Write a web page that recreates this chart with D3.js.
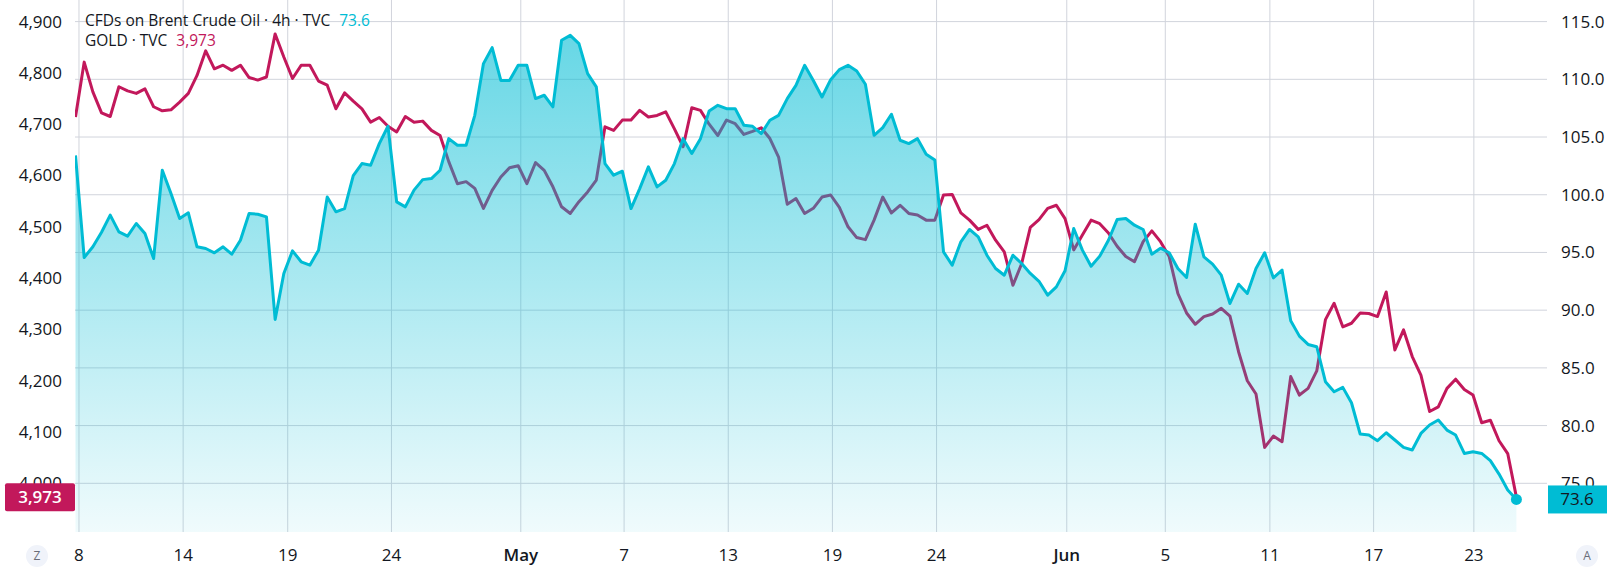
<!DOCTYPE html>
<html>
<head>
<meta charset="utf-8">
<script src="https://cdn.jsdelivr.net/npm/d3@7"></script>
<style>
  body { margin: 0; background: #ffffff; }
  svg { display: block; font-family: "Open Sans", sans-serif; }
</style>
</head>
<body>
<div id="chart"><svg></svg></div>
<script>
// Brent (right scale), one value every 2 bars of 4h
const brent = [
  103.4, 94.56, 95.49, 96.75, 98.23, 96.78, 96.41, 97.51, 96.64, 94.47,
  102.12, 100.1, 97.94, 98.43, 95.49, 95.34, 94.97, 95.49, 94.85, 96.06,
  98.37, 98.31, 98.08, 89.2, 93.18, 95.14, 94.19, 93.9, 95.2, 99.81,
  98.52, 98.8, 101.66, 102.7, 102.56, 104.43, 105.93, 99.38, 98.95, 100.4,
  101.31, 101.4, 102.12, 104.86, 104.29, 104.29, 106.88, 111.36, 112.74, 109.9,
  109.9, 111.21, 111.21, 108.33, 108.62, 107.61, 113.38, 113.81, 113.09, 110.49,
  109.34, 102.7, 101.69, 102.04, 98.8, 100.53, 102.41, 100.68, 101.26, 102.7,
  104.86, 103.57, 104.86, 107.26, 107.75, 107.46, 107.46, 106.02, 105.93, 105.3,
  106.45, 106.88, 108.33, 109.48, 111.21, 109.9, 108.47, 109.97, 110.84, 111.21,
  110.72, 109.57, 105.15, 105.82, 106.97, 104.72, 104.43, 104.86, 103.51, 103.0,
  95.05, 93.9, 95.92, 96.99, 96.35, 94.76, 93.61, 93.03, 94.76, 94.04,
  93.18, 92.5, 91.3, 92.02, 93.41, 97.07, 95.2, 93.81, 94.68, 96.06,
  97.85, 97.94, 97.36, 96.99, 94.85, 95.37, 94.97, 93.61, 92.83, 97.45,
  94.62, 93.99, 93.03, 90.58, 92.25, 91.45, 93.61, 94.97, 92.8, 93.47,
  89.08, 87.75, 87.03, 86.83, 83.8, 82.93, 83.31, 81.98, 79.27, 79.18,
  78.69, 79.38, 78.75, 78.11, 77.88, 79.32, 80.05, 80.48, 79.61, 79.18,
  77.59, 77.74, 77.59, 76.96, 75.8, 74.42, 73.6
]

// Gold (left scale)
const gold = [
  4714, 4821, 4763, 4722, 4715, 4773, 4765, 4760, 4769, 4734,
  4726, 4728, 4743, 4760, 4795, 4843, 4808, 4815, 4805, 4815,
  4791, 4786, 4792, 4876, 4831, 4789, 4815, 4815, 4784, 4776,
  4730, 4761, 4745, 4730, 4704, 4713, 4696, 4685, 4715, 4704,
  4706, 4688, 4678, 4627, 4584, 4588, 4575, 4536, 4571, 4597,
  4615, 4619, 4584, 4625, 4610, 4578, 4539, 4526, 4549, 4568,
  4591, 4695, 4688, 4708, 4708, 4727, 4714, 4717, 4724, 4691,
  4656, 4732, 4727, 4700, 4678, 4708, 4701, 4680, 4686, 4693,
  4672, 4636, 4544, 4555, 4526, 4536, 4558, 4562, 4538, 4500,
  4479, 4475, 4513, 4558, 4527, 4542, 4526, 4523, 4513, 4513,
  4562, 4563, 4527, 4513, 4495, 4503, 4474, 4451, 4386, 4428,
  4499, 4514, 4536, 4542, 4516, 4455, 4484, 4513, 4506, 4488,
  4462, 4442, 4432, 4471, 4492, 4471, 4442, 4370, 4332, 4310,
  4325, 4330, 4341, 4326, 4256, 4200, 4174, 4070, 4092, 4081,
  4208, 4172, 4185, 4219, 4319, 4351, 4305, 4312, 4332, 4331,
  4325, 4373, 4260, 4299, 4247, 4211, 4140, 4149, 4185, 4203,
  4183, 4172, 4118, 4123, 4083, 4058, 3973
]

// x axis ticks (position in samples)
const tickLabels = ["8", "14", "19", "24", "May", "7", "13", "19", "24", "Jun", "5", "11", "17", "23"]
const tickIdx = [0.4, 12.4, 24.45, 36.4, 51.3, 63.2, 75.2, 87.2, 99.2, 114.2, 125.55, 137.6, 149.55, 161.1]

const leftTicks = [4000, 4100, 4200, 4300, 4400, 4500, 4600, 4700, 4800, 4900]
const rightTicks = [75, 80, 85, 90, 95, 100, 105, 110, 115]

const lastBrent = "73.6"
const lastGold = "3,973"

class DualChart {
    constructor() {
        this.width = 1616
        this.height = 574

        this.plot = {
            left: 75,
            right: 1547,
            top: 0,
            bottom: 532
        }

        this.colors = {
            brent: "#00bcd4",
            gold: "#c2185b",
            grid: "#d1d4dc",
            text: "#131722"
        }

        this.setUp()
    }

    setUp() {
        let svg = d3.select("#chart").select("svg")
            .attr("width", this.width)
            .attr("height", this.height)

        this.x = d3.scaleLinear()
            .domain([0, brent.length - 1])
            .range([75.5, 1516.4])

        this.yR = d3.scaleLinear().domain([75, 115]).range([483.3, 21.6])
        this.yL = d3.scaleLinear().domain([4000, 4900]).range([483.3, 21.6])

        let defs = svg.append("defs")
        defs.append("clipPath").attr("id", "plot-clip")
            .append("rect")
            .attr("x", this.plot.left)
            .attr("y", this.plot.top)
            .attr("width", this.plot.right - this.plot.left)
            .attr("height", this.plot.bottom - this.plot.top)

        let grad = defs.append("linearGradient")
            .attr("id", "brent-fill")
            .attr("gradientUnits", "userSpaceOnUse")
            .attr("x1", 0).attr("x2", 0)
            .attr("y1", this.yR(114)).attr("y2", this.plot.bottom)
        grad.append("stop").attr("offset", 0).attr("stop-color", this.colors.brent).attr("stop-opacity", 0.6)
        grad.append("stop").attr("offset", 1).attr("stop-color", this.colors.brent).attr("stop-opacity", 0.06)

        this.setUpGrid(svg)
        this.setUpSeries(svg)
        this.setUpAxes(svg)
        this.setUpLegend(svg)
    }

    setUpGrid(svg) {
        let grid = svg.append("g").attr("class", "grid")

        grid.selectAll(".h-line")
            .data(rightTicks)
            .join("line")
            .attr("x1", this.plot.left)
            .attr("x2", this.plot.right)
            .attr("y1", d => this.yR(d))
            .attr("y2", d => this.yR(d))
            .attr("stroke", this.colors.grid)

        grid.selectAll(".v-line")
            .data(tickIdx)
            .join("line")
            .attr("x1", d => this.x(d))
            .attr("x2", d => this.x(d))
            .attr("y1", this.plot.top)
            .attr("y2", this.plot.bottom)
            .attr("stroke", this.colors.grid)
    }

    setUpSeries(svg) {
        let series = svg.append("g").attr("clip-path", "url(#plot-clip)")

        let goldLine = d3.line()
            .x((d, i) => this.x(i))
            .y(d => this.yL(d))

        let brentLine = d3.line()
            .x((d, i) => this.x(i))
            .y(d => this.yR(d))

        let brentArea = d3.area()
            .x((d, i) => this.x(i))
            .y0(this.plot.bottom)
            .y1(d => this.yR(d))

        // gold sits under the brent fill, so it turns purple inside it
        series.append("path")
            .datum(gold)
            .attr("d", goldLine)
            .attr("fill", "none")
            .attr("stroke", this.colors.gold)
            .attr("stroke-width", 3)
            .attr("stroke-linejoin", "round")

        series.append("path")
            .datum(brent)
            .attr("d", brentArea)
            .attr("fill", "url(#brent-fill)")

        series.append("path")
            .datum(brent)
            .attr("d", brentLine)
            .attr("fill", "none")
            .attr("stroke", this.colors.brent)
            .attr("stroke-width", 3)
            .attr("stroke-linejoin", "round")

        series.append("circle")
            .attr("cx", this.x(brent.length - 1))
            .attr("cy", this.yR(brent[brent.length - 1]))
            .attr("r", 5.5)
            .attr("fill", this.colors.brent)
    }

    setUpAxes(svg) {
        let axes = svg.append("g").attr("font-size", 17).attr("fill", this.colors.text)

        axes.selectAll(".left-label")
            .data(leftTicks)
            .join("text")
            .attr("x", 62)
            .attr("y", d => this.yL(d))
            .attr("dy", "0.35em")
            .attr("text-anchor", "end")
            .text(d => d3.format(",")(d))

        axes.selectAll(".right-label")
            .data(rightTicks)
            .join("text")
            .attr("x", 1561)
            .attr("y", d => this.yR(d))
            .attr("dy", "0.35em")
            .text(d => d3.format(".1f")(d))

        axes.selectAll(".date-label")
            .data(tickIdx)
            .join("text")
            .attr("x", d => this.x(d))
            .attr("y", 561)
            .attr("text-anchor", "middle")
            .attr("font-weight", (d, i) => (tickLabels[i] === "May" || tickLabels[i] === "Jun") ? 600 : 400)
            .text((d, i) => tickLabels[i])

        // last value boxes, drawn over the axis labels as in the source
        let goldBox = svg.append("g")
        goldBox.append("rect")
            .attr("x", 5).attr("y", this.yL(3973) - 14)
            .attr("width", 70).attr("height", 28)
            .attr("rx", 2)
            .attr("fill", this.colors.gold)
        goldBox.append("text")
            .attr("x", 40).attr("y", this.yL(3973))
            .attr("dy", "0.35em")
            .attr("text-anchor", "middle")
            .attr("font-size", 17)
            .attr("font-weight", 600)
            .attr("fill", "#ffffff")
            .text(lastGold)

        let brentBox = svg.append("g")
        brentBox.append("rect")
            .attr("x", 1548).attr("y", this.yR(73.6) - 14)
            .attr("width", 59).attr("height", 28)
            .attr("fill", this.colors.brent)
        brentBox.append("text")
            .attr("x", 1577).attr("y", this.yR(73.6))
            .attr("dy", "0.35em")
            .attr("text-anchor", "middle")
            .attr("font-size", 17)
            .attr("fill", this.colors.text)
            .text(lastBrent)

        // small round buttons in the corners
        let buttons = [{ x: 37, t: "Z" }, { x: 1587, t: "A" }]
        let btn = svg.selectAll(".btn")
            .data(buttons)
            .join("g")
        btn.append("circle")
            .attr("cx", d => d.x).attr("cy", 556)
            .attr("r", 11)
            .attr("fill", "#f0f3fa")
        btn.append("text")
            .attr("x", d => d.x).attr("y", 556)
            .attr("dy", "0.35em")
            .attr("text-anchor", "middle")
            .attr("font-size", 12)
            .attr("fill", "#6a6d78")
            .text(d => d.t)
    }

    setUpLegend(svg) {
        let legend = svg.append("g").attr("font-size", 15.5).attr("fill", this.colors.text)

        let row1 = legend.append("text").attr("x", 85).attr("y", 26)
        row1.append("tspan").text("CFDs on Brent Crude Oil · 4h · TVC")
        row1.append("tspan").attr("dx", 9).attr("fill", this.colors.brent).text(lastBrent)

        let row2 = legend.append("text").attr("x", 85).attr("y", 46)
        row2.append("tspan").text("GOLD · TVC")
        row2.append("tspan").attr("dx", 9).attr("fill", this.colors.gold).text(lastGold)
    }
}

new DualChart()
</script>
</body>
</html>
